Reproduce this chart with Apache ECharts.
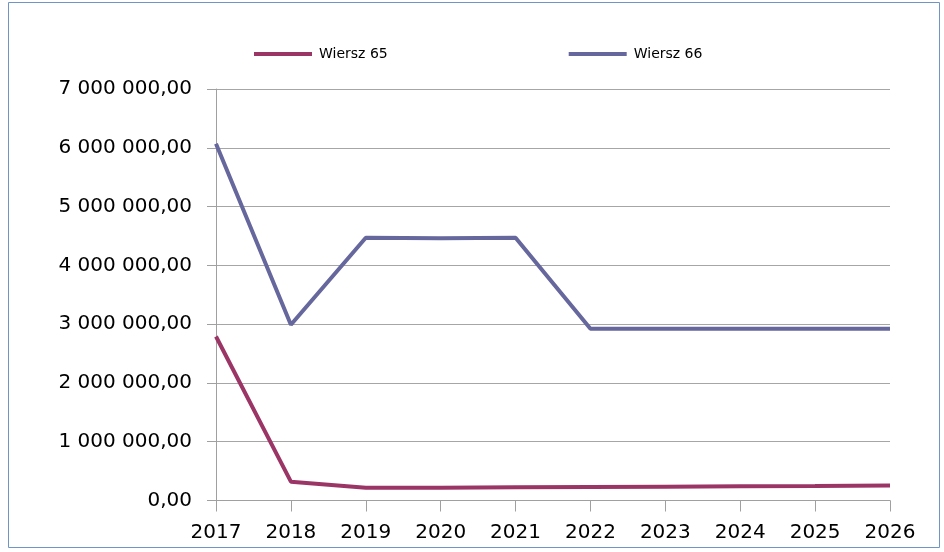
<!DOCTYPE html>
<html>
<head>
<meta charset="utf-8">
<script src="https://cdn.jsdelivr.net/npm/echarts@6/dist/echarts.min.js"></script>
<style>
  html, body { margin: 0; padding: 0; background: #fff; }
  #chart { width: 944px; height: 552px; }
</style>
</head>
<body>
<div id="chart"></div>
<script>
  // lata (oś X)
  var years = ['2017', '2018', '2019', '2020', '2021', '2022', '2023', '2024', '2025', '2026']
  // wartości
  var wiersz65 = [2790000, 320000, 215000, 218000, 225000, 230000, 236000, 242000, 248000, 255000]
  var wiersz66 = [6070000, 2990000, 4470000, 4460000, 4470000, 2920000, 2920000, 2920000, 2920000, 2920000]
  var seriesNames = ['Wiersz 65', 'Wiersz 66']
  var seriesColors = ['#9b3566', '#66679c']

  var fontList = '"DejaVu Sans", sans-serif'

  // 7000000 -> "7 000 000,00"
  function fmt(v) {
    var s = String(Math.round(v))
    s = s.replace(/\B(?=(\d{3})+(?!\d))/g, ' ')
    return s + ',00'
  }

  var myChart = echarts.init(document.getElementById('chart'))
  var option = {
    animation: false,
    graphic: [
      {
        type: 'rect',
        shape: { x: 8.5, y: 2.5, width: 931, height: 545 },
        style: { fill: 'none', stroke: '#7194c6', lineWidth: 1 },
        silent: true
      }
    ],
    legend: {
      data: seriesNames,
      top: 42,
      left: 249,
      itemGap: 181,
      itemWidth: 58,
      itemHeight: 4,
      icon: 'rect',
      textStyle: { fontSize: 14, color: '#000', fontFamily: fontList, padding: [0, 0, 0, 2] }
    },
    grid: { left: 216, right: 54, top: 89, bottom: 51.5 },
    xAxis: {
      type: 'category',
      data: years,
      boundaryGap: false,
      axisLine: { lineStyle: { color: '#a0a0a0', width: 1 } },
      axisTick: { show: true, alignWithLabel: true, length: 11, lineStyle: { color: '#a0a0a0' } },
      axisLabel: { fontSize: 20, color: '#000', margin: 22, fontFamily: fontList },
      splitLine: { show: false }
    },
    yAxis: {
      type: 'value',
      min: 0,
      max: 7000000,
      interval: 1000000,
      axisLine: { show: true, lineStyle: { color: '#a0a0a0', width: 1 } },
      axisTick: { show: true, length: 9, lineStyle: { color: '#a0a0a0' } },
      axisLabel: { fontSize: 20, color: '#000', margin: 24, fontFamily: fontList, formatter: fmt },
      splitLine: { show: true, lineStyle: { color: '#a6a6a6', width: 1 } }
    },
    series: [
      {
        name: seriesNames[0],
        type: 'line',
        data: wiersz65,
        symbol: 'none',
        lineStyle: { color: seriesColors[0], width: 4 },
        itemStyle: { color: seriesColors[0] }
      },
      {
        name: seriesNames[1],
        type: 'line',
        data: wiersz66,
        symbol: 'none',
        lineStyle: { color: seriesColors[1], width: 4 },
        itemStyle: { color: seriesColors[1] }
      }
    ]
  }
  myChart.setOption(option)
</script>
</body>
</html>
